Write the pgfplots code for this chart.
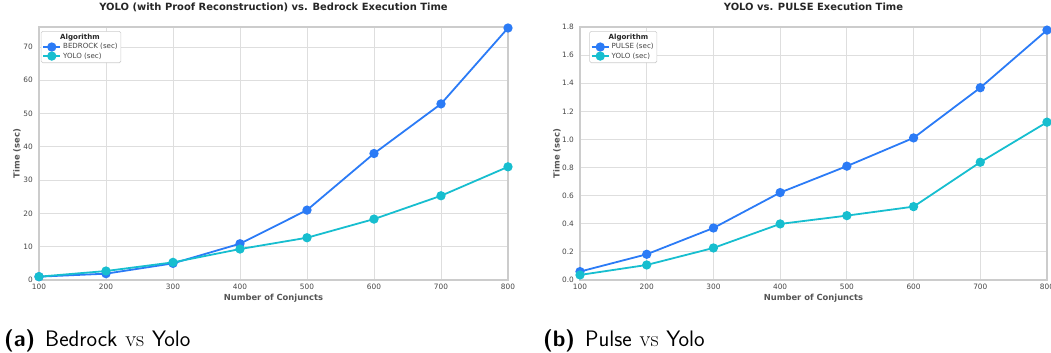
\documentclass[border=0pt]{standalone}
\usepackage{fontspec}
\usepackage{pgfplots}
\pgfplotsset{compat=1.18}
\newfontfamily\dejavu{DejaVu Sans}
\definecolor{cblue}{RGB}{43,123,246}
\definecolor{ccyan}{RGB}{23,190,207}
\definecolor{gridc}{RGB}{222,222,222}
\definecolor{framec}{RGB}{204,204,204}
\definecolor{tickc}{RGB}{70,70,70}
\definecolor{labc}{RGB}{85,85,85}
\definecolor{titc}{RGB}{38,38,38}

\pgfplotsset{
  mystyle/.style={
    scale only axis, height=253bp,
    xmin=100, xmax=800, xtick={100,200,...,800}, ymin=0,
    grid=major, grid style={gridc, line width=0.9bp},
    axis line style={framec, line width=1.1bp},
    major tick length=0pt,
    /pgf/number format/assume math mode=true,
    tick label style={font=\dejavu\fontsize{7.4}{8}\selectfont, text=tickc},
    xticklabel style={inner sep=0pt, yshift=-3.5bp},
    yticklabel style={inner sep=0pt, xshift=-6bp},
    title style={font=\dejavu\bfseries\fontsize{10}{11}\selectfont, text=titc, anchor=base},
    xlabel style={font=\dejavu\bfseries\fontsize{8.4}{9}\selectfont, text=labc, anchor=center},
    ylabel style={font=\dejavu\bfseries\fontsize{8.4}{9}\selectfont, text=labc, anchor=center},
    legend cell align=left,
    legend style={at={(axis description cs:0.004,0.984)}, anchor=north west,
      draw=framec, line width=0.6bp, rounded corners=1.5bp, fill=white,
      font=\dejavu\fontsize{7.1}{7.5}\selectfont, text=tickc,
      inner sep=1.2bp, row sep=-1.8bp},
    every axis plot/.append style={line width=1.8bp, mark=*, mark size=3.7bp},
  },
}

\begin{document}
\begin{tikzpicture}
\useasboundingbox (0,0) rectangle (1051bp,-353bp);

\begin{axis}[mystyle, width=469bp, at={(39bp,-280bp)}, anchor=south west,
  ymax=76, ytick={0,10,...,70},
  title={YOLO (with Proof Reconstruction) vs. Bedrock Execution Time},
  title style={at={(axis description cs:0.5,1.0435)}},
  xlabel={Number of Conjuncts},
  xlabel style={at={(axis description cs:0.5,-0.0731)}},
  ylabel={Time (sec)},
  ylabel style={at={(axis description cs:-0.0469,0.5)}},
]
\addlegendimage{empty legend}
\addlegendentry{\hspace{-3bp}\textbf{\color{titc}Algorithm}}
\addplot[color=cblue, mark options={fill=cblue, draw=cblue}] coordinates {
  (100,1.0) (200,1.9) (300,5.0) (400,10.9) (500,21.0) (600,38.0) (700,52.9) (800,75.7)};
\addlegendentry{BEDROCK (sec)}
\addplot[color=ccyan, mark options={fill=ccyan, draw=ccyan}] coordinates {
  (100,1.0) (200,2.7) (300,5.3) (400,9.3) (500,12.7) (600,18.3) (700,25.3) (800,34.0)};
\addlegendentry{YOLO (sec)}
\end{axis}

\begin{axis}[mystyle, width=467bp, at={(580bp,-280bp)}, anchor=south west,
  ymax=1.8, ytick={0,0.2,...,1.81},
  yticklabel style={/pgf/number format/.cd, fixed, fixed zerofill, precision=1},
  title={YOLO vs. PULSE Execution Time},
  title style={at={(axis description cs:0.5,1.0435)}},
  xlabel={Number of Conjuncts},
  xlabel style={at={(axis description cs:0.5,-0.0731)}},
  ylabel={Time (sec)},
  ylabel style={at={(axis description cs:-0.0493,0.5)}},
  legend style={at={(axis description cs:0.02,0.984)}},
]
\addlegendimage{empty legend}
\addlegendentry{\hspace{-3bp}\textbf{\color{titc}Algorithm}}
\addplot[color=cblue, mark options={fill=cblue, draw=cblue}] coordinates {
  (100,0.06) (200,0.183) (300,0.370) (400,0.622) (500,0.810) (600,1.011) (700,1.368) (800,1.778)};
\addlegendentry{PULSE (sec)}
\addplot[color=ccyan, mark options={fill=ccyan, draw=ccyan}] coordinates {
  (100,0.036) (200,0.107) (300,0.228) (400,0.399) (500,0.458) (600,0.522) (700,0.838) (800,1.123)};
\addlegendentry{YOLO (sec)}
\end{axis}

\node[anchor=base west, inner sep=0pt, font=\fontsize{22.5}{26}\selectfont] at (4bp,-346.5bp)
  {\sffamily\textbf{(a)}\hspace{0.45em}Bedrock\hspace{0.35em}\textrm{vs}\hspace{0.35em}Yolo};
\node[anchor=base west, inner sep=0pt, font=\fontsize{22.5}{26}\selectfont] at (543bp,-346.5bp)
  {\sffamily\textbf{(b)}\hspace{0.45em}Pulse\hspace{0.35em}\textrm{vs}\hspace{0.35em}Yolo};
\end{tikzpicture}
\end{document}
